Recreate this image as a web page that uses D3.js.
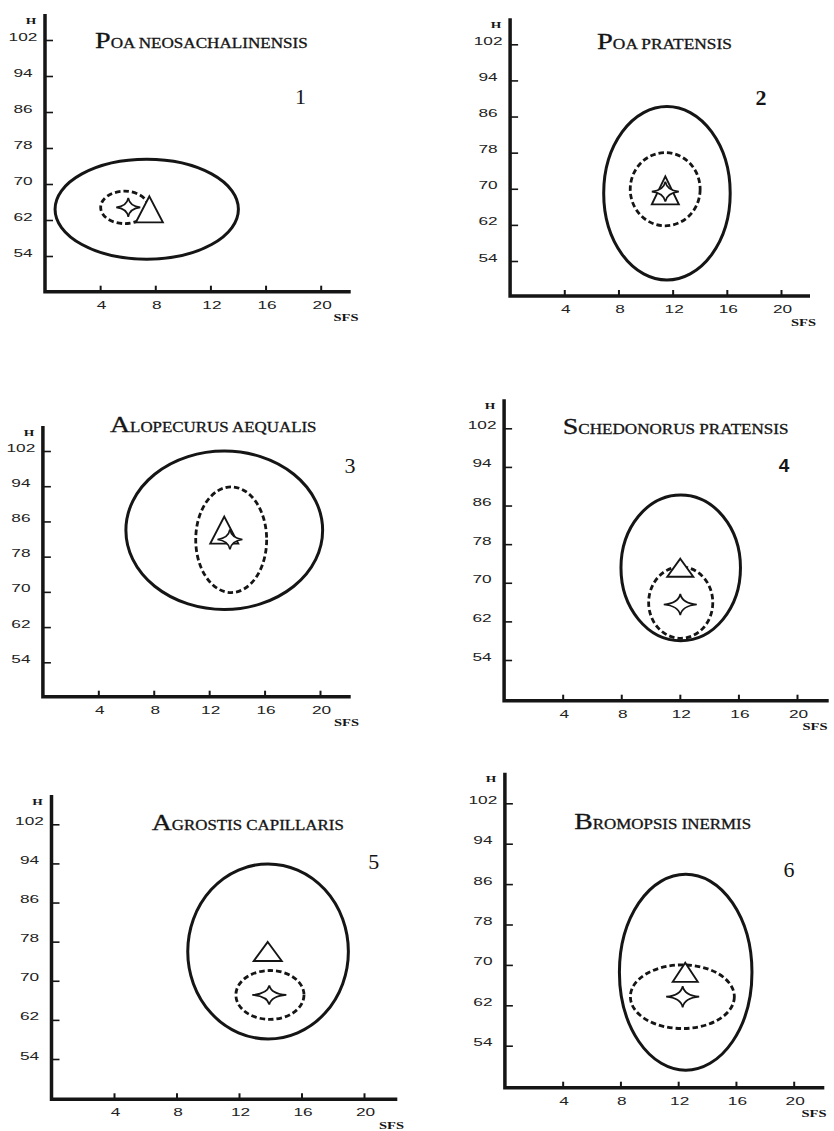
<!DOCTYPE html>
<html>
<head>
<meta charset="utf-8">
<script src="https://cdn.jsdelivr.net/npm/d3@7"></script>
<style>
  body { margin: 0; background: #fff; }
  svg { display: block; }
</style>
</head>
<body>
<svg id="fig" width="834" height="1131"></svg>
<script>
// Species shown in the six panels
const species = [
  "Poa neosachalinensis",
  "Poa pratensis",
  "Alopecurus aequalis",
  "Schedonorus pratensis",
  "Agrostis capillaris",
  "Bromopsis inermis"
];
const panelNumbers = ["1", "2", "3", "4", "5", "6"];

// Axis ticks (SFS horizontally, H vertically)
const xTicks = [4, 8, 12, 16, 20];
const yTicks = [54, 62, 70, 78, 86, 94, 102];

// Outer (solid) ellipse: centre and half-axes in data units
const outerCx = [7.38, 11.58, 13.09, 12.06, 13.86, 12.52];
const outerCy = [64.4, 69.0, 84.0, 73.1, 76.0, 68.55];
const outerRx = [6.65, 4.67, 7.1, 4.08, 5.14, 4.59];
const outerRy = [11.1, 19.2, 18.0, 15.1, 17.9, 19.4];

// Inner (dashed) ellipse
const innerCx = [5.77, 11.45, 13.59, 12.06, 13.98, 12.29];
const innerCy = [64.8, 69.9, 81.85, 65.9, 67.1, 63.7];
const innerRx = [1.73, 2.58, 2.56, 2.19, 2.18, 3.6];
const innerRy = [3.6, 8.1, 12.0, 7.4, 5.0, 6.3];

// Star marker position
const starSFS = [6.04, 11.46, 13.5, 12.03, 13.94, 12.31];
const starH   = [64.8, 69.35, 81.9, 65.5, 67.1, 63.7];

// Triangle marker position (centroid)
const triSFS = [7.57, 11.46, 13.09, 12.03, 13.84, 12.49];
const triH   = [63.4, 68.6, 83.0, 72.5, 75.35, 67.9];

// Page layout of each panel (pixels)
const panels = [
  { x0: 45,    x20: 320.7, y54: 256,    y102: 40,    top: 14,    bottom: 291.7,  right: 350.7,
    titleX: 95,    titleY: 47.7,  titleW: 213,   numX: 300.5, numY: 104,   numStyle: "serif",
    sfsX: 346, tri: [27, 26], star: [24, 19] },
  { x0: 510.1, x20: 781,   y54: 261,    y102: 44.3,  top: 18.3,  bottom: 296,    right: 810,
    titleX: 597,   titleY: 49.3,  titleW: 135,   numX: 761,   numY: 105,   numStyle: "serifBold",
    sfsX: 803.5, tri: [27, 28], star: [27, 20] },
  { x0: 42.9,  x20: 320,   y54: 662.3,  y102: 451,   top: 426,   bottom: 696.7,  right: 350.7,
    titleX: 110,   titleY: 431.7, titleW: 206.7, numX: 350,   numY: 473.3, numStyle: "serif",
    sfsX: 346.5, tri: [28, 27], star: [25, 20] },
  { x0: 504.1, x20: 797,   y54: 660,    y102: 428.3, top: 399.3, bottom: 700.7,  right: 828.7,
    titleX: 562.7, titleY: 434,   titleW: 226,   numX: 784,   numY: 472.3, numStyle: "sans",
    sfsX: 815, tri: [26, 18], star: [33, 21] },
  { x0: 51.5,  x20: 364,   y54: 1059,   y102: 824.3, top: 795,   bottom: 1099.3, right: 397.3,
    titleX: 151.7, titleY: 830,   titleW: 192.3, numX: 373.7, numY: 869.3, numStyle: "serif",
    sfsX: 391.5, tri: [28, 19], star: [34, 19] },
  { x0: 504.9, x20: 793.7, y54: 1045.7, y102: 803.3, top: 772.7, bottom: 1087.7, right: 824.3,
    titleX: 574.3, titleY: 829.3, titleW: 177,   numX: 789,   numY: 876.7, numStyle: "serif",
    sfsX: 814, tri: [25, 19], star: [33, 21] }
];

const INK = "#151515";
const svg = d3.select("#fig");

function trianglePath(w, h) {
  return `M0,${-2 * h / 3} L${w / 2},${h / 3} L${-w / 2},${h / 3} Z`;
}
function starPath(w, h) {
  const a = w / 2, b = h / 2, k = 0.12;
  return `M${-a},0 Q${-a * k},${-b * k} 0,${-b} Q${a * k},${-b * k} ${a},0 ` +
         `Q${a * k},${b * k} 0,${b} Q${-a * k},${b * k} ${-a},0 Z`;
}

panels.forEach((p, i) => {
  const x = d3.scaleLinear().domain([0, 20]).range([p.x0, p.x20]);
  const y = d3.scaleLinear().domain([54, 102]).range([p.y54, p.y102]);
  const g = svg.append("g");

  // y axis ticks (pointing inward) and labels
  const yAxis = d3.axisLeft(y).tickValues(yTicks).tickSizeInner(-8).tickSizeOuter(0).tickPadding(0);
  const gy = g.append("g").attr("transform", `translate(${p.x0},0)`).call(yAxis);
  gy.select(".domain").remove();
  gy.selectAll(".tick line").attr("stroke", INK).attr("stroke-width", 1.6);
  gy.selectAll(".tick text")
    .attr("x", null).attr("dy", null)
    .attr("text-anchor", "middle")
    .attr("transform", "translate(-22,0) scale(1.5,1)")
    .attr("fill", "#222")
    .style("font-family", "'Liberation Sans', Arial, sans-serif")
    .style("font-size", "11.5px");

  // x axis ticks (pointing upward) and labels
  const xAxis = d3.axisBottom(x).tickValues(xTicks).tickSizeInner(-6).tickSizeOuter(0).tickPadding(0);
  const gx = g.append("g").attr("transform", `translate(0,${p.bottom})`).call(xAxis);
  gx.select(".domain").remove();
  gx.selectAll(".tick line").attr("stroke", INK).attr("stroke-width", 2);
  gx.selectAll(".tick text")
    .attr("y", null).attr("dy", null)
    .attr("text-anchor", "middle")
    .attr("transform", "translate(1,17) scale(1.5,1)")
    .attr("fill", "#222")
    .style("font-family", "'Liberation Sans', Arial, sans-serif")
    .style("font-size", "11.5px");

  // axis lines
  g.append("path")
    .attr("d", `M${p.x0},${p.top} V${p.bottom} H${p.right}`)
    .attr("fill", "none").attr("stroke", INK).attr("stroke-width", 3.5)
    .attr("stroke-linejoin", "miter");

  // axis names
  g.append("text")
    .attr("transform", `translate(${p.x0 - 14},${p.top + 9.5}) scale(1.5,1)`)
    .attr("text-anchor", "middle")
    .attr("fill", INK)
    .style("font-family", "'Liberation Serif', 'Times New Roman', serif")
    .style("font-weight", "bold").style("font-size", "9px")
    .text("H");
  g.append("text")
    .attr("transform", `translate(${p.sfsX},${p.bottom + 29.5}) scale(1.45,1)`)
    .attr("text-anchor", "middle")
    .attr("fill", INK)
    .style("font-family", "'Liberation Serif', 'Times New Roman', serif")
    .style("font-weight", "bold").style("font-size", "10px")
    .text("SFS");

  // outer ellipse (solid)
  g.append("ellipse")
    .attr("cx", x(outerCx[i])).attr("cy", y(outerCy[i]))
    .attr("rx", x(outerCx[i] + outerRx[i]) - x(outerCx[i]))
    .attr("ry", y(outerCy[i]) - y(outerCy[i] + outerRy[i]))
    .attr("fill", "none").attr("stroke", INK).attr("stroke-width", 3);

  // inner ellipse (dashed)
  g.append("ellipse")
    .attr("cx", x(innerCx[i])).attr("cy", y(innerCy[i]))
    .attr("rx", x(innerCx[i] + innerRx[i]) - x(innerCx[i]))
    .attr("ry", y(innerCy[i]) - y(innerCy[i] + innerRy[i]))
    .attr("fill", "none").attr("stroke", INK).attr("stroke-width", 2.8)
    .attr("stroke-dasharray", "5.5,3");

  // triangle marker
  g.append("path")
    .attr("transform", `translate(${x(triSFS[i])},${y(triH[i])})`)
    .attr("d", trianglePath(p.tri[0], p.tri[1]))
    .attr("fill", "#fff").attr("stroke", INK).attr("stroke-width", 1.9)
    .attr("stroke-linejoin", "miter");

  // star marker
  g.append("path")
    .attr("transform", `translate(${x(starSFS[i])},${y(starH[i])})`)
    .attr("d", starPath(p.star[0], p.star[1]))
    .attr("fill", "#fff").attr("stroke", INK).attr("stroke-width", 1.7)
    .attr("stroke-linejoin", "miter");

  // species title in small capitals
  const name = species[i];
  const title = g.append("text")
    .attr("fill", INK)
    .attr("stroke", INK).attr("stroke-width", 0.3)
    .style("font-family", "'Liberation Serif', 'Times New Roman', serif");
  title.append("tspan").style("font-size", "23px").text(name.charAt(0).toUpperCase());
  title.append("tspan").style("font-size", "14px").text(name.slice(1).toUpperCase());
  const natural = title.node().getComputedTextLength();
  title.attr("transform", `translate(${p.titleX},${p.titleY}) scale(${p.titleW / natural},1)`);

  // panel number
  const num = g.append("text")
    .attr("x", p.numX).attr("y", p.numY)
    .attr("text-anchor", "middle")
    .attr("fill", INK)
    .text(panelNumbers[i]);
  if (p.numStyle === "sans") {
    num.style("font-family", "'Liberation Sans', Arial, sans-serif")
       .style("font-weight", "bold").style("font-size", "19px");
  } else {
    num.style("font-family", "'Liberation Serif', 'Times New Roman', serif")
       .style("font-weight", p.numStyle === "serifBold" ? "bold" : "normal")
       .style("font-size", "22px");
  }
});
</script>
</body>
</html>
